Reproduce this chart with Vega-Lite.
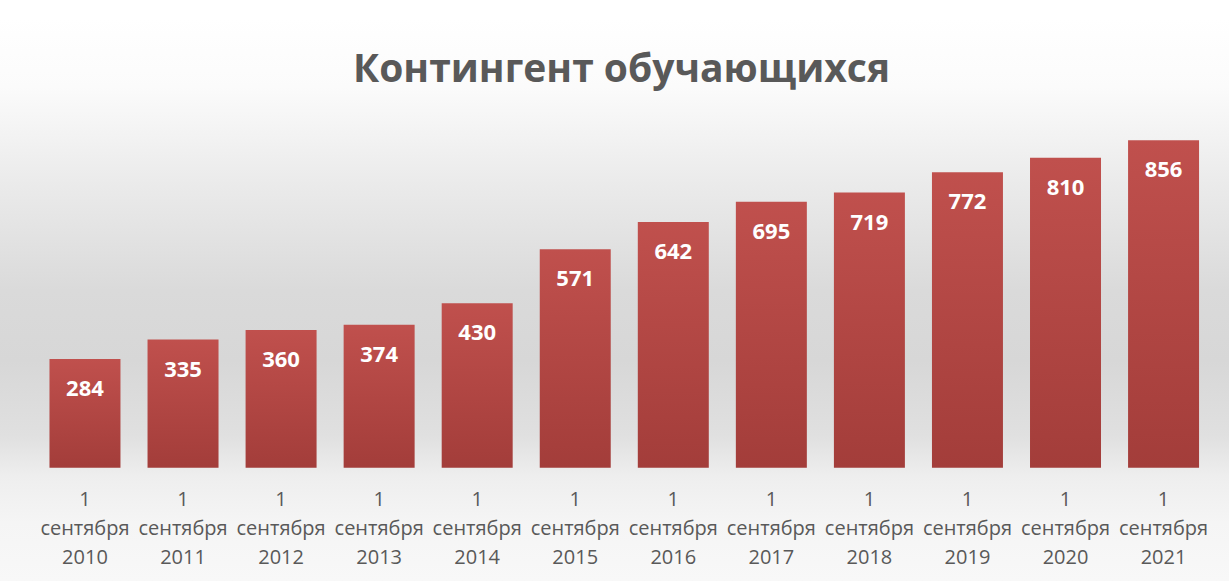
{
  "$schema": "https://vega.github.io/schema/vega-lite/v6.json",
  "width": 1229,
  "height": 581,
  "autosize": {"type": "none"},
  "padding": 0,
  "background": "#ffffff",
  "config": {
    "view": {
      "stroke": null,
      "fill": {
        "gradient": "linear", "x1": 0, "y1": 0, "x2": 0, "y2": 1,
        "stops": [
          {"offset": 0, "color": "#ffffff"},
          {"offset": 0.03, "color": "#ffffff"},
          {"offset": 0.15, "color": "#fbfbfb"},
          {"offset": 0.3, "color": "#ececec"},
          {"offset": 0.5, "color": "#dadada"},
          {"offset": 0.62, "color": "#d7d7d7"},
          {"offset": 0.75, "color": "#e0e0e0"},
          {"offset": 0.82, "color": "#eeeeee"},
          {"offset": 0.9, "color": "#f5f5f5"},
          {"offset": 1, "color": "#f8f8f8"}
        ]
      }
    },
    "font": "Open Sans"
  },
  "title": {
    "text": "Контингент обучающихся",
    "font": "Open Sans",
    "fontSize": 39,
    "fontWeight": "bold",
    "color": "#595959",
    "anchor": "middle",
    "orient": "top",
    "baseline": "alphabetic",
    "offset": -121,
    "dx": 7
  },
  "data": {
    "values": [
      {"date": "1 сентября 2010", "count": 284},
      {"date": "1 сентября 2011", "count": 335},
      {"date": "1 сентября 2012", "count": 360},
      {"date": "1 сентября 2013", "count": 374},
      {"date": "1 сентября 2014", "count": 430},
      {"date": "1 сентября 2015", "count": 571},
      {"date": "1 сентября 2016", "count": 642},
      {"date": "1 сентября 2017", "count": 695},
      {"date": "1 сентября 2018", "count": 719},
      {"date": "1 сентября 2019", "count": 772},
      {"date": "1 сентября 2020", "count": 810},
      {"date": "1 сентября 2021", "count": 856}
    ]
  },
  "encoding": {
    "x": {
      "field": "date",
      "type": "nominal",
      "sort": null,
      "scale": {"paddingInner": 0.276, "paddingOuter": 0.405, "align": 0.623},
      "axis": {
        "title": null,
        "orient": "bottom",
        "offset": -114,
        "domain": false,
        "ticks": false,
        "labelAngle": 0,
        "labelExpr": "split(datum.label, ' ')",
        "labelFont": "Open Sans",
        "labelFontSize": 20,
        "labelColor": "#595959",
        "labelLineHeight": 29,
        "labelBaseline": "top",
        "labelPadding": 22
      }
    },
    "y": {
      "field": "count",
      "type": "quantitative",
      "scale": {"domain": [-296, 1222.4], "nice": false, "zero": false},
      "axis": null
    }
  },
  "layer": [
    {
      "mark": {
        "type": "bar",
        "color": {
          "gradient": "linear", "x1": 0, "y1": 0, "x2": 0, "y2": 1,
          "stops": [
            {"offset": 0, "color": "#c0504d"},
            {"offset": 1, "color": "#a33d3a"}
          ]
        }
      }
    },
    {
      "mark": {
        "type": "text",
        "baseline": "middle",
        "dy": 30,
        "font": "Open Sans",
        "fontSize": 22,
        "fontWeight": "bold",
        "color": "#ffffff"
      },
      "encoding": {"text": {"field": "count", "type": "quantitative"}}
    }
  ]
}
